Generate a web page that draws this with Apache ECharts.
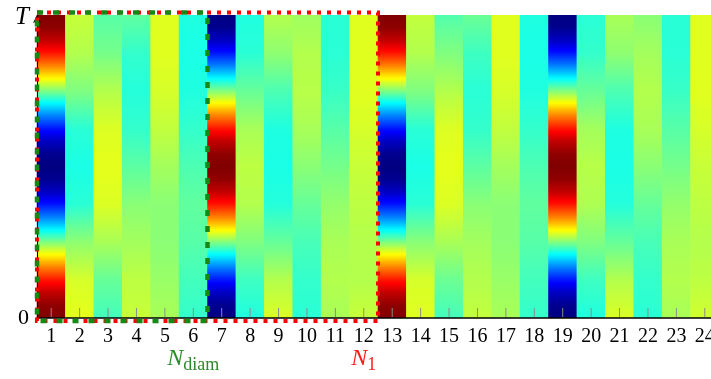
<!DOCTYPE html>
<html><head><meta charset="utf-8">
<script src="https://cdn.jsdelivr.net/npm/echarts@6/dist/echarts.min.js"></script>
<style>html,body{margin:0;padding:0;background:#fff}#c{width:711px;height:379px}</style>
</head><body><div id="c"></div>
<script>
// x categories (node index n) and y tick labels (time)
const nLabels = ['1','2','3','4','5','6','7','8','9','10','11','12','13','14','15','16','17','18','19','20','21','22','23','24'];
const tLabels = ['0', 'T'];

// field value per column, sampled evenly from t = 0 (bottom) to t = T (top)
const u01 = [1.00, 0.97, 0.87, 0.71, 0.50, 0.26, 0.00, -0.26, -0.50, -0.71, -0.87, -0.97, -1.00, -0.97, -0.87, -0.71, -0.50, -0.26, 0.00, 0.26, 0.50, 0.71, 0.87, 0.97, 1.00];
const u02 = [0.20, 0.17, 0.03, -0.17, -0.20, -0.17, 0.00, 0.10, 0.14];
const u03 = [-0.12, -0.05, 0.08, 0.18, 0.20, 0.18, 0.10, -0.02, -0.08];
const u04 = [0.14, 0.12, 0.07, 0.02, -0.07, -0.15, -0.18, -0.15, -0.06];
const u05 = [0.08, 0.05, 0.02, 0.02, 0.07, 0.13, 0.17, 0.19, 0.19];
const u06 = [-0.15, -0.12, -0.08, -0.06, -0.10, -0.15, -0.19, -0.20, -0.19];
const u07 = [-1.00, -0.97, -0.87, -0.71, -0.50, -0.26, 0.00, 0.26, 0.50, 0.71, 0.87, 0.97, 1.00, 0.97, 0.87, 0.71, 0.50, 0.26, 0.00, -0.26, -0.50, -0.71, -0.87, -0.97, -1.00];
const u08 = [-0.19, -0.13, 0.00, 0.10, 0.12, 0.08, -0.05, -0.17, -0.19];
const u09 = [0.18, 0.10, -0.05, -0.18, -0.20, -0.19, -0.10, 0.03, 0.10];
const u10 = [-0.17, -0.15, -0.11, -0.05, 0.02, 0.08, 0.11, 0.10, 0.06];
const u11 = [0.08, 0.10, 0.08, 0.04, -0.02, -0.08, -0.14, -0.17, -0.17];
const u12 = [0.14, 0.10, 0.10, 0.12, 0.14, 0.17, 0.19, 0.19, 0.19];
const u13 = [1.00, 0.97, 0.87, 0.71, 0.50, 0.26, 0.00, -0.26, -0.50, -0.71, -0.87, -0.97, -1.00, -0.97, -0.87, -0.71, -0.50, -0.26, 0.00, 0.26, 0.50, 0.71, 0.87, 0.97, 1.00];
const u14 = [0.19, 0.17, 0.02, -0.17, -0.20, -0.17, 0.00, 0.10, 0.13];
const u15 = [-0.12, -0.04, 0.08, 0.18, 0.20, 0.18, 0.10, 0.00, -0.09];
const u16 = [0.13, 0.10, 0.07, 0.02, -0.07, -0.15, -0.17, -0.13, -0.04];
const u17 = [0.08, 0.05, 0.02, 0.02, 0.07, 0.13, 0.17, 0.19, 0.19];
const u18 = [-0.15, -0.12, -0.08, -0.06, -0.10, -0.15, -0.19, -0.20, -0.19];
const u19 = [-1.00, -0.97, -0.87, -0.71, -0.50, -0.26, 0.00, 0.26, 0.50, 0.71, 0.87, 0.97, 1.00, 0.97, 0.87, 0.71, 0.50, 0.26, 0.00, -0.26, -0.50, -0.71, -0.87, -0.97, -1.00];
const u20 = [-0.19, -0.13, 0.00, 0.09, 0.11, 0.07, -0.05, -0.15, -0.17];
const u21 = [0.18, 0.10, -0.05, -0.18, -0.20, -0.19, -0.10, 0.03, 0.08];
const u22 = [-0.17, -0.15, -0.11, -0.05, 0.02, 0.08, 0.10, 0.07, 0.02];
const u23 = [0.08, 0.10, 0.08, 0.04, -0.02, -0.08, -0.14, -0.17, -0.17];
const u24 = [0.16, 0.12, 0.10, 0.12, 0.14, 0.17, 0.19, 0.19, 0.19];
const columns = [u01,u02,u03,u04,u05,u06,u07,u08,u09,u10,u11,u12,u13,u14,u15,u16,u17,u18,u19,u20,u21,u22,u23,u24];

// highlighted column ranges (1-based, inclusive)
const n1Range = [1, 12];
const diamRange = [1, 6];

// ---- styling ----
const SERIF = 'Liberation Serif';
const JET = [[0,[0,0,128]],[0.125,[0,0,255]],[0.375,[0,255,255]],[0.625,[255,255,0]],[0.875,[255,0,0]],[1,[128,0,0]]];
function jet(v) {
  let n = Math.max(0, Math.min(1, (v + 1) / 2));
  for (let k = 0; k < JET.length - 1; k++) {
    const a = JET[k], b = JET[k + 1];
    if (n <= b[0]) {
      const f = (n - a[0]) / (b[0] - a[0]);
      const c = a[1].map((x, j) => Math.round(x + (b[1][j] - x) * f));
      return 'rgb(' + c.join(',') + ')';
    }
  }
  return 'rgb(128,0,0)';
}
const boxStyles = [
  { color: '#ff0000', text: '#ff1a1a', dash: [4, 6], width: 4, label: '{n|N}{s|1}' },
  { color: '#168816', text: '#2a8c2a', dash: [6, 10], width: 4.5, label: '{n|N}{s|diam}' }
];

function renderColumn(params, api) {
  const idx = api.value(0);
  const vals = columns[params.dataIndex];
  const top = api.coord([idx, 1]);
  const bot = api.coord([idx, 0]);
  const bw = api.size([1, 0])[0];
  const n = vals.length, S = 8;
  const stops = [];
  for (let i = 0; i < n - 1; i++) {
    for (let s = 0; s < S; s++) {
      const f = s / S;
      stops.push({ offset: 1 - (i + f) / (n - 1), color: jet(vals[i] + (vals[i + 1] - vals[i]) * f) });
    }
  }
  stops.push({ offset: 0, color: jet(vals[n - 1]) });
  stops.sort((a, b) => a.offset - b.offset);
  return {
    type: 'rect',
    shape: { x: top[0] - bw / 2 - 0.3, y: top[1], width: bw + 0.6, height: bot[1] - top[1] },
    style: { fill: new echarts.graphic.LinearGradient(0, 0, 0, 1, stops) }
  };
}

function renderTick(params, api) {
  const p = api.coord([api.value(0), 0]);
  return { type: 'line', shape: { x1: p[0], y1: p[1] - 1, x2: p[0], y2: p[1] - 10 },
           style: { stroke: '#8c8c8c', lineWidth: 1 } };
}

function renderBox(params, api) {
  const st = boxStyles[params.dataIndex];
  const i0 = api.value(0), i1 = api.value(1);
  const bw = api.size([1, 0])[0];
  const pTop = api.coord([i0, 1]);
  const pBot = api.coord([i1, 0]);
  const x0 = pTop[0] - bw / 2, x1 = pBot[0] + bw / 2;
  const y0 = pTop[1] - 2.5, y1 = pBot[1] + 3;
  return {
    type: 'group',
    children: [
      { type: 'rect', shape: { x: x0, y: y0, width: x1 - x0, height: y1 - y0 },
        style: { fill: 'none', stroke: st.color, lineWidth: st.width, lineDash: st.dash } },
      { type: 'text', x: pBot[0], y: pBot[1] + 41,
        style: { text: st.label, align: 'center', verticalAlign: 'middle', fill: st.text,
          rich: {
            n: { fontSize: 24, fontStyle: 'italic', fontFamily: SERIF, fill: st.text },
            s: { fontSize: 18, fontFamily: SERIF, fill: st.text, padding: [12, 0, 0, 0] }
          } } }
    ]
  };
}

const chart = echarts.init(document.getElementById('c'), null, { renderer: 'canvas' });
chart.setOption({
  animation: false,
  backgroundColor: '#ffffff',
  grid: { left: 37, width: 682, top: 15, bottom: 61, outerBoundsMode: 'none', containLabel: false },
  xAxis: {
    type: 'category', data: nLabels, boundaryGap: true, zlevel: 1, z: 5,
    axisLine: { lineStyle: { color: '#000', width: 1.5 } },
    axisTick: { show: false },
    axisLabel: { interval: 0, margin: 9, color: '#000', fontSize: 20, fontFamily: SERIF },
    splitLine: { show: false }
  },
  yAxis: {
    type: 'value', min: 0, max: 1, interval: 1, zlevel: 1, z: 5,
    axisLine: { show: true, symbol: ['none', 'arrow'], symbolSize: [6, 8], lineStyle: { color: '#000', width: 1 } },
    axisTick: { show: false },
    splitLine: { show: false },
    axisLabel: {
      margin: 8, color: '#000', fontSize: 22, fontFamily: SERIF,
      formatter: v => v === 0 ? tLabels[0] : '{t|' + tLabels[1] + '}',
      rich: { t: { fontSize: 25, fontStyle: 'italic', fontFamily: SERIF, color: '#000', padding: [5, 0, 0, 0] } }
    }
  },
  series: [
    {
      type: 'custom', renderItem: renderColumn, zlevel: 0, z: 2, clip: false,
      encode: { x: 0, y: [1, 2] },
      data: columns.map((c, i) => [i, 0, 1])
    },
    {
      type: 'custom', renderItem: renderTick, zlevel: 1, z: 3, clip: false,
      encode: { x: 0, y: 1 },
      data: nLabels.map((l, i) => [i, 0])
    },
    {
      type: 'custom', renderItem: renderBox, zlevel: 1, z: 20, clip: false,
      encode: { x: [0, 1], y: 2 },
      data: [[n1Range[0] - 1, n1Range[1] - 1, 0], [diamRange[0] - 1, diamRange[1] - 1, 0]]
    }
  ]
});
</script>
</body></html>
